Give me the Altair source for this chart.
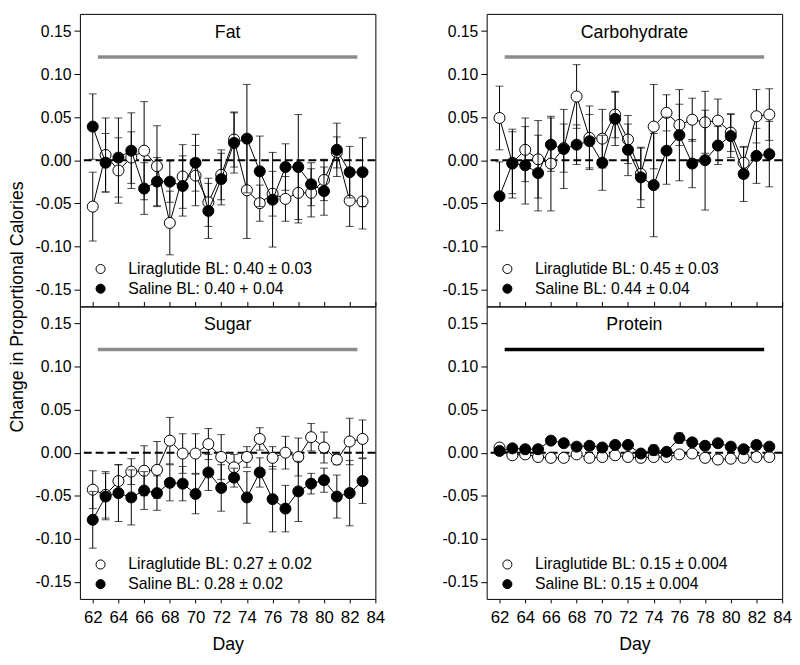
import altair as alt
import pandas as pd

days = list(range(62, 84))

# ---- Fat ----
fat_lira_mean = [-0.054, 0.006, -0.012, 0.003, 0.011, -0.007, -0.073, -0.019, -0.018, -0.049, -0.017,
                 0.024, -0.035, -0.050, -0.039, -0.045, -0.038, -0.038, -0.023, 0.009, -0.047, -0.048]
fat_lira_se = [0.040, 0.043, 0.038, 0.030, 0.057, 0.047, 0.037, 0.037, 0.035, 0.028, 0.029,
               0.032, 0.056, 0.021, 0.026, 0.026, 0.035, 0.028, 0.024, 0.018, 0.030, 0.032]
fat_sal_mean = [0.039, -0.003, 0.003, 0.011, -0.033, -0.025, -0.025, -0.030, -0.003, -0.059, -0.022,
                0.020, 0.025, -0.013, -0.046, -0.008, -0.008, -0.028, -0.036, 0.012, -0.014, -0.014]
fat_sal_se = [0.038, 0.034, 0.046, 0.044, 0.030, 0.028, 0.024, 0.035, 0.033, 0.032, 0.030,
              0.035, 0.063, 0.041, 0.055, 0.027, 0.061, 0.025, 0.028, 0.031, 0.030, 0.040]

# ---- Carbohydrate ----
carb_lira_mean = [0.049, -0.003, 0.012, 0.001, -0.004, 0.014, 0.074, 0.026, 0.025, 0.053, 0.024,
                  -0.016, 0.039, 0.055, 0.041, 0.047, 0.044, 0.046, 0.032, -0.003, 0.051, 0.053]
carb_lira_se = [0.037, 0.036, 0.037, 0.045, 0.055, 0.028, 0.037, 0.037, 0.034, 0.027, 0.028,
                0.030, 0.049, 0.021, 0.024, 0.025, 0.036, 0.025, 0.022, 0.018, 0.031, 0.030]
carb_sal_mean = [-0.042, -0.004, -0.006, -0.015, 0.018, 0.013, 0.018, 0.022, -0.003, 0.048, 0.012,
                 -0.020, -0.029, 0.011, 0.029, -0.004, 0.000, 0.017, 0.028, -0.016, 0.005, 0.007]
carb_sal_se = [0.040, 0.040, 0.045, 0.044, 0.031, 0.046, 0.023, 0.031, 0.032, 0.031, 0.030,
               0.035, 0.060, 0.039, 0.053, 0.028, 0.058, 0.022, 0.025, 0.032, 0.032, 0.038]

# ---- Sugar ----
sug_lira_mean = [-0.043, -0.049, -0.033, -0.022, -0.021, -0.020, 0.014, -0.001, -0.001, 0.010, -0.005,
                 -0.017, -0.005, 0.016, -0.006, 0.000, -0.005, 0.018, 0.006, -0.008, 0.013, 0.016]
sug_lira_se = [0.022, 0.027, 0.019, 0.015, 0.029, 0.033, 0.027, 0.023, 0.023, 0.018, 0.026,
               0.015, 0.012, 0.013, 0.013, 0.019, 0.022, 0.016, 0.018, 0.006, 0.027, 0.022]
sug_sal_mean = [-0.078, -0.051, -0.047, -0.052, -0.044, -0.047, -0.035, -0.036, -0.048, -0.023, -0.041,
                -0.029, -0.052, -0.023, -0.054, -0.065, -0.045, -0.036, -0.032, -0.051, -0.047, -0.033]
sug_sal_se = [0.033, 0.027, 0.033, 0.032, 0.022, 0.020, 0.021, 0.020, 0.023, 0.021, 0.027,
              0.011, 0.030, 0.017, 0.038, 0.027, 0.035, 0.012, 0.014, 0.025, 0.038, 0.026]

# ---- Protein ----
pro_lira_mean = [0.006, -0.003, -0.002, -0.005, -0.006, -0.006, -0.002, -0.006, -0.005, -0.003, -0.005,
                 -0.006, -0.005, -0.005, -0.002, -0.001, -0.006, -0.008, -0.007, -0.006, -0.005, -0.005]
pro_lira_se = [0.003, 0.003, 0.004, 0.003, 0.003, 0.003, 0.004, 0.003, 0.003, 0.003, 0.003,
               0.003, 0.004, 0.003, 0.004, 0.004, 0.003, 0.003, 0.003, 0.003, 0.003, 0.003]
pro_sal_mean = [0.002, 0.005, 0.004, 0.004, 0.014, 0.011, 0.007, 0.008, 0.006, 0.009, 0.009,
                -0.001, 0.003, 0.001, 0.017, 0.012, 0.008, 0.011, 0.007, 0.004, 0.009, 0.007]
pro_sal_se = [0.003, 0.003, 0.003, 0.003, 0.003, 0.003, 0.003, 0.004, 0.003, 0.003, 0.003,
              0.004, 0.006, 0.003, 0.006, 0.004, 0.004, 0.004, 0.003, 0.003, 0.005, 0.003]

panel_titles = ["Fat", "Carbohydrate", "Sugar", "Protein"]
lira_legend = ["Liraglutide BL: 0.40 \u00b1 0.03", "Liraglutide BL: 0.45 \u00b1 0.03",
               "Liraglutide BL: 0.27 \u00b1 0.02", "Liraglutide BL: 0.15 \u00b1 0.004"]
sal_legend = ["Saline BL: 0.40 + 0.04", "Saline BL: 0.44 \u00b1 0.04",
              "Saline BL: 0.28 \u00b1 0.02", "Saline BL: 0.15 \u00b1 0.004"]
bar_colors = ["#8c8c8c", "#8c8c8c", "#8c8c8c", "#000000"]

period_start = [62.4]
period_end = [82.6]
period_level = [0.12]

x_domain = [61, 84]
y_domain = [-0.17, 0.17]
x_ticks = [62, 64, 66, 68, 70, 72, 74, 76, 78, 80, 82, 84]
y_ticks = [-0.15, -0.10, -0.05, 0.0, 0.05, 0.10, 0.15]

series = [
    (fat_lira_mean, fat_lira_se, fat_sal_mean, fat_sal_se),
    (carb_lira_mean, carb_lira_se, carb_sal_mean, carb_sal_se),
    (sug_lira_mean, sug_lira_se, sug_sal_mean, sug_sal_se),
    (pro_lira_mean, pro_lira_se, pro_sal_mean, pro_sal_se),
]

W, H = 300, 297
FONT = "Liberation Sans"

xs = alt.Scale(domain=x_domain, nice=False, zero=False)
ys = alt.Scale(domain=y_domain, nice=False, zero=False)


def group_frame(mean, se):
    return pd.DataFrame({
        "day": days,
        "mean": mean,
        "lo": [m - s for m, s in zip(mean, se)],
        "hi": [m + s for m, s in zip(mean, se)],
    })


def make_panel(i, top, left):
    lm, lse, sm, sse = series[i]
    if top:
        xaxis = alt.Axis(values=x_ticks, labels=False, domain=False, ticks=True, tickSize=5,
                         offset=-5, title=None, grid=False, tickColor="black")
    else:
        xaxis = alt.Axis(values=x_ticks, domain=False, ticks=True, tickSize=4, tickColor="black",
                         labelFontSize=17, labelPadding=7, labelColor="black", labelFont=FONT,
                         labelOverlap=False, labelFlush=False,
                         title="Day", titleFontSize=18, titleFontWeight="normal", titleColor="black",
                         titleFont=FONT, titlePadding=10, grid=False)
    yargs = dict(values=y_ticks, domain=False, ticks=True, tickSize=6, tickColor="black",
                 labelFontSize=16, labelPadding=3, labelColor="black", labelFont=FONT,
                 labelOverlap=False,
                 labelExpr="replace(format(datum.value, '.2f'), '\u2212', '-')", grid=False)
    if top and left:
        yaxis = alt.Axis(title="Change in Proportional Calories", titleFontSize=18,
                         titleFontWeight="normal", titleColor="black", titleFont=FONT,
                         titleX=-54, titleY=H, titleAngle=-90, titleBaseline="bottom",
                         titleAlign="center", **yargs)
    else:
        yaxis = alt.Axis(title=None, **yargs)

    X = alt.X("day:Q", scale=xs, axis=xaxis)

    zero = alt.Chart(pd.DataFrame({"z": [0.0]})).mark_rule(
        color="black", strokeWidth=2, strokeDash=[8, 4]).encode(
        y=alt.Y("z:Q", scale=ys, axis=yaxis))

    bar = alt.Chart(pd.DataFrame({"s": period_start, "e": period_end, "v": period_level})).mark_rule(
        color=bar_colors[i], strokeWidth=3.5).encode(
        x=alt.X("s:Q", scale=xs, axis=xaxis), x2="e:Q",
        y=alt.Y("v:Q", scale=ys, axis=yaxis))

    layers = [zero, bar]
    for mean, se, fill in ((lm, lse, "white"), (sm, sse, "black")):
        df = group_frame(mean, se)
        base = alt.Chart(df)
        err = base.mark_rule(color="black", strokeWidth=1).encode(
            x=X, y=alt.Y("lo:Q", scale=ys, axis=yaxis), y2="hi:Q")
        cap_lo = base.mark_tick(orient="horizontal", size=8, thickness=1, color="black").encode(
            x=X, y=alt.Y("lo:Q", scale=ys, axis=yaxis))
        cap_hi = base.mark_tick(orient="horizontal", size=8, thickness=1, color="black").encode(
            x=X, y=alt.Y("hi:Q", scale=ys, axis=yaxis))
        line = base.mark_line(color="black", strokeWidth=1).encode(
            x=X, y=alt.Y("mean:Q", scale=ys, axis=yaxis))
        pts = base.mark_point(shape="circle", filled=True, fill=fill, stroke="black", strokeWidth=1,
                              size=125, opacity=1, fillOpacity=1, strokeOpacity=1).encode(
            x=X, y=alt.Y("mean:Q", scale=ys, axis=yaxis))
        layers += [err, cap_lo, cap_hi, line, pts]

    one = pd.DataFrame({"k": [0]})
    title = alt.Chart(one).mark_text(fontSize=18, font=FONT, color="black", align="center",
                                     baseline="middle").encode(
        x=alt.value(W / 2), y=alt.value(19), text=alt.value(panel_titles[i]))
    if top:
        ly1, ly2 = 259, 279
    else:
        ly1, ly2 = 262, 282
    leg_c1 = alt.Chart(one).mark_point(shape="circle", filled=True, fill="white", stroke="black",
                                       strokeWidth=1, size=85, opacity=1).encode(
        x=alt.value(21), y=alt.value(ly1))
    leg_c2 = alt.Chart(one).mark_point(shape="circle", filled=True, fill="black", stroke="black",
                                       strokeWidth=1, size=85, opacity=1).encode(
        x=alt.value(21), y=alt.value(ly2))
    leg_t1 = alt.Chart(one).mark_text(fontSize=16, font=FONT, color="black", align="left",
                                      baseline="middle").encode(
        x=alt.value(49), y=alt.value(ly1), text=alt.value(lira_legend[i]))
    leg_t2 = alt.Chart(one).mark_text(fontSize=16, font=FONT, color="black", align="left",
                                      baseline="middle").encode(
        x=alt.value(49), y=alt.value(ly2), text=alt.value(sal_legend[i]))
    layers += [title, leg_c1, leg_c2, leg_t1, leg_t2]
    return alt.layer(*layers).properties(width=W, height=H)


panels = [make_panel(0, True, True), make_panel(1, True, False),
          make_panel(2, False, True), make_panel(3, False, False)]

chart = alt.concat(*panels, columns=2, spacing={"row": 0, "column": 113}, bounds="flush").properties(
    padding=0
).configure(font=FONT).configure_view(
    stroke="black", strokeWidth=1
).configure_axisBottom(labelFontSize=17, labelFont=FONT)

chart.save("out.html", embed_options={"renderer": "svg", "actions": False})
